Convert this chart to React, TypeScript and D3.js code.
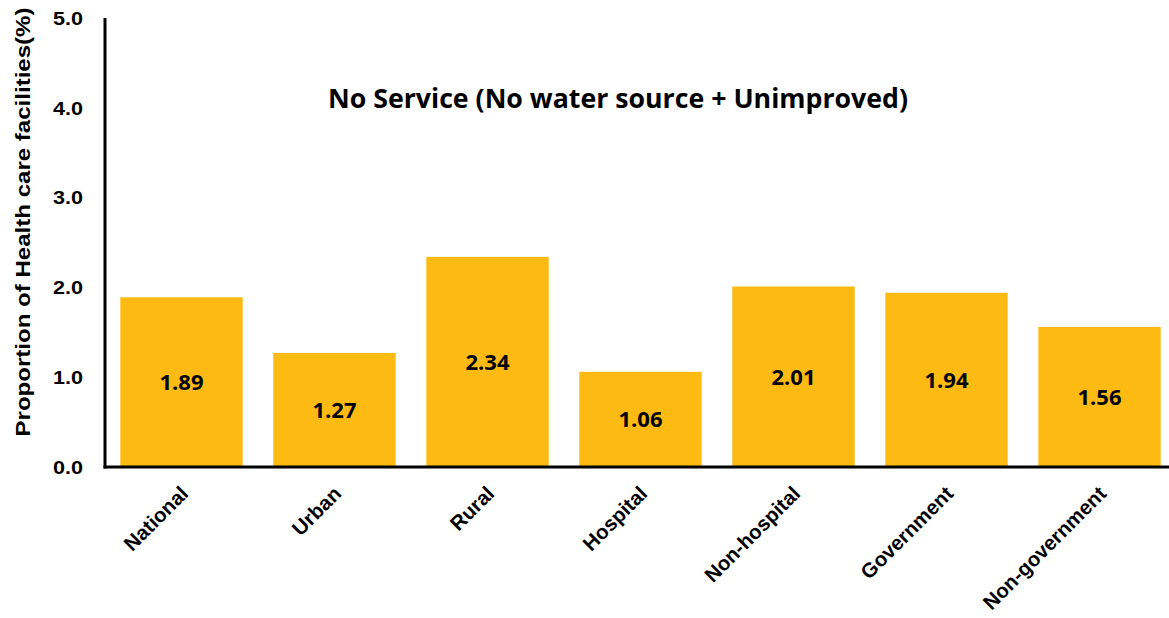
import React from "react";
import * as d3 from "d3";

const categories = ["National", "Urban", "Rural", "Hospital", "Non-hospital", "Government", "Non-government"];
const values = [1.89, 1.27, 2.34, 1.06, 2.01, 1.94, 1.56];
const yTicks = [0, 1, 2, 3, 4, 5];
const title = "No Service (No water source + Unimproved)";
const yTitle = "Proportion of Health care facilities(%)";

const W = 1169, H = 618;
const left = 105, right = 1176, top = 18, bottom = 467;

export default function App() {
  const x = d3.scaleBand<string>().domain(categories).range([left, right]).paddingInner(0.2).paddingOuter(0.1);
  const y = d3.scaleLinear().domain([0, 5]).range([bottom, top]);
  const arial = "'Liberation Sans', Arial, sans-serif";
  const cal = "'Open Sans', 'Noto Sans', sans-serif";
  return (
    <svg width={W} height={H} style={{ position: "absolute", left: 0, top: 0, background: "#fff" }}>
      {categories.map((c, i) => (
        <g key={c}>
          <rect x={x(c)} y={y(values[i])} width={x.bandwidth()} height={y(0) - y(values[i])} fill="#FDBA12" />
          <text x={x(c)! + x.bandwidth() / 2} y={(y(values[i]) + y(0)) / 2} dy="0.36em" textAnchor="middle"
            fontFamily={cal} fontWeight="bold" fontSize={22} fill="#000">{values[i].toFixed(2)}</text>
          <text transform={`translate(${x(c)! + x.bandwidth() / 2 + 8},${bottom + 28}) rotate(-45)`} textAnchor="end"
            fontFamily={arial} fontWeight="bold" fontSize={20.5} fill="#000">{c}</text>
        </g>
      ))}
      <line x1={left} x2={left} y1={top} y2={bottom + 1.5} stroke="#000" strokeWidth={3} />
      <line x1={left - 1.5} x2={W} y1={bottom} y2={bottom} stroke="#000" strokeWidth={3} />
      {yTicks.map(t => (
        <text key={t} x={83} y={y(t)} dy="0.36em" textAnchor="end" fontFamily={arial} fontWeight="bold" fontSize={19}
          textLength={30} lengthAdjust="spacingAndGlyphs" fill="#000">{t.toFixed(1)}</text>
      ))}
      <text transform={`translate(30,222) rotate(-90)`} textAnchor="middle"
        fontFamily={arial} fontWeight="bold" fontSize={20} textLength={429} lengthAdjust="spacingAndGlyphs" fill="#000">{yTitle}</text>
      <text x={618} y={108} textAnchor="middle" fontFamily={cal} fontWeight="bold" fontSize={26} fill="#000"
        textLength={580} lengthAdjust="spacingAndGlyphs">{title}</text>
    </svg>
  );
}
